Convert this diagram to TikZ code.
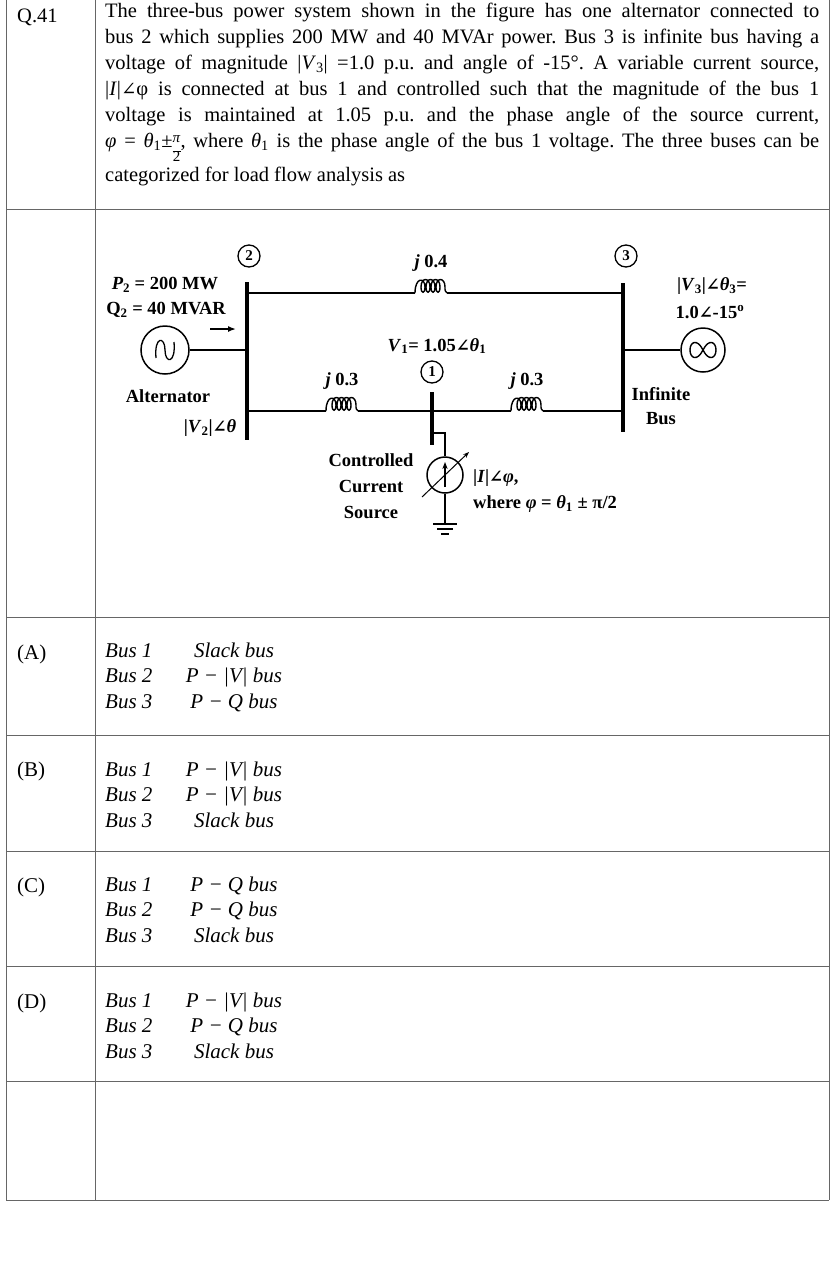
\documentclass[tikz,border=0pt]{standalone}
\usepackage{fontspec}
\setmainfont{Liberation Serif}
\newfontfamily\dv{DejaVu Serif}
\usetikzlibrary{arrows.meta,decorations.pathmorphing}
\newcommand{\ang}{{\dv\fontsize{0.9em}{1em}\selectfont ∠}}
\newcommand{\vi}[1]{\textit{#1}}
\newcommand{\pitwo}{\raisebox{-0.55ex}{\fontsize{15}{15}\selectfont\begin{tabular}{@{}c@{}}\textit{π}\\[-6pt]\rule{8pt}{0.6pt}\\[-5pt]2\end{tabular}}}
\begin{document}
\begin{tikzpicture}[x=1pt,y=-1pt,
  grid/.style={draw=black!60,line width=0.8pt},
  wire/.style={line width=1.5pt},
  busbar/.style={line width=4.5pt},
  lbl/.style={font=\fontsize{18.5}{20}\selectfont\bfseries,inner sep=0pt},
  num/.style={circle,draw,line width=1.3pt,minimum size=22pt,inner sep=0pt,font=\fontsize{15}{15}\selectfont\bfseries},
  opt/.style={font=\fontsize{21}{22}\selectfont,anchor=base west,inner sep=0pt},
  optc/.style={font=\fontsize{21}{22}\selectfont,anchor=base,inner sep=0pt}]
\useasboundingbox (0,0) rectangle (840,1262);
\frenchspacing
% table
\draw[grid] (6,0) -- (6,1200) (95,0) -- (95,1200) (829,0) -- (829,1200);
\foreach \y in {209,617,735,851,966,1081,1200} \draw[grid] (6,\y) -- (829,\y);
\node[anchor=base west,inner sep=0pt,font=\fontsize{20.5}{26}\selectfont] (q) at (17,22) {Q.41};
\node[anchor=north west,inner sep=0pt,text width=714pt,align=justify,font=\fontsize{20.5}{26}\selectfont] (para) at (105,3)
{\frenchspacing The three-bus power system shown in the figure has one alternator connected to\linebreak
bus 2 which supplies 200 MW and 40 MVAr power. Bus 3 is infinite bus having a\linebreak
voltage of magnitude |\vi{V}\textsubscript{3}| =1.0 p.u. and angle of -15°. A variable current source,\linebreak
|\vi{I}|\ang φ is connected at bus 1 and controlled such that the magnitude of the bus 1\linebreak
voltage is maintained at 1.05 p.u. and the phase angle of the source current,\linebreak
\vi{φ} = \vi{θ}\textsubscript{1}±\pitwo, where \vi{θ}\textsubscript{1} is the phase angle of the bus 1 voltage. The three buses can be\linebreak
categorized for load flow analysis as};
% diagram buses
\draw[busbar] (247,282) -- (247,440);
\draw[busbar] (623,283) -- (623,432);
\draw[busbar] (432,392) -- (432,445);
\coordinate (b2t) at (247,293); \coordinate (b3t) at (623,293);
\coordinate (b2b) at (247,411); \coordinate (b3b) at (623,411);
\coordinate (b1) at (432,411);
\newcommand{\coilat}[2]{%
 \draw[line width=1.4pt] (#1-16,#2) .. controls (#1-16,#2-16) and (#1-6,#2-16) .. (#1-6,#2-6)
  .. controls (#1-6,#2+1) and (#1-10,#2+1) .. (#1-10,#2-6)
  .. controls (#1-10,#2-16) and (#1-1,#2-16) .. (#1-1,#2-6)
  .. controls (#1-1,#2+1) and (#1-5,#2+1) .. (#1-5,#2-6)
  .. controls (#1-5,#2-16) and (#1+4,#2-16) .. (#1+4,#2-6)
  .. controls (#1+4,#2+1) and (#1,#2+1) .. (#1,#2-6)
  .. controls (#1,#2-16) and (#1+9,#2-16) .. (#1+9,#2-6)
  .. controls (#1+9,#2+1) and (#1+5,#2+1) .. (#1+5,#2-6)
  .. controls (#1+5,#2-16) and (#1+14,#2-16) .. (#1+14,#2-6)
  .. controls (#1+14,#2-2) .. (#1+16,#2);}
\draw[wire] (b2t) -- (415,293); \coilat{431}{293} \draw[wire] (447,293) -- (b3t);
\draw[wire] (b2b) -- (326,411); \coilat{342}{411} \draw[wire] (358,411) -- (b1);
\draw[wire] (b1) -- (511,411); \coilat{527}{411} \draw[wire] (543,411) -- (b3b);
\node[lbl] (j4) at (431,263) {\itshape j\upshape\ 0.4};
\node[lbl] (j3a) at (342,381) {\itshape j\upshape\ 0.3};
\node[lbl] (j3b) at (527,381) {\itshape j\upshape\ 0.3};
\node[num] (n2) at (249,256) {2};
\node[num] (n3) at (626,256) {3};
\node[num] (n1) at (432,372) {1};
% alternator
\node[circle,draw,line width=1.5pt,minimum size=48pt,inner sep=0pt] (gen) at (165,350) {};
\draw[line width=1.3pt] (156,358) .. controls (154,336) and (165,336) .. (165,350) .. controls (165,364) and (176,364) .. (174,342);
\draw[wire] (gen.east) -- (247,350);
\draw[-{Latex[length=8pt]},line width=1.5pt] (210,329) -- (236,329);
% infinite source
\node[circle,draw,line width=1.5pt,minimum size=44pt,inner sep=0pt] (inf) at (703,350) {};
\draw[line width=1.4pt] (703,350) .. controls (697,338) and (690,342) .. (690,350) .. controls (690,358) and (697,362) .. (703,350) .. controls (709,338) and (716,342) .. (716,350) .. controls (716,358) and (709,362) .. (703,350);
\draw[wire] (623,350) -- (inf.west);
% current source
\node[circle,draw,line width=1.5pt,minimum size=36pt,inner sep=0pt] (cs) at (445,475) {};
\draw[wire] (432,433) -- (445,433) -- (cs.north);
\draw[-{Stealth[length=7pt]},line width=1.6pt] (445,487) -- (445,462);
\draw[-{Stealth[length=6pt]},line width=1pt] (422,497) -- (469,452);
\coordinate (gnd) at (445,524);
\draw[wire] (cs.south) -- (gnd);
\draw[line width=1.4pt] (433,524) -- (457,524) (437,529) -- (453,529) (441,534) -- (449,534);
% labels
\node[lbl] (p2) at (165,285) {\itshape P\textsubscript{\upshape 2}\upshape\ = 200 MW};
\node[lbl] (q2) at (166,310) {Q\textsubscript{2} = 40 MVAR};
\node[lbl] (alt) at (168,396) {Alternator};
\node[lbl] (v2) at (210,428) {|\vi{V}\textsubscript{2}|\ang\vi{θ}};
\node[lbl] (v1) at (437,346) {\vi{V}\textsubscript{1}= 1.05\ang\vi{θ}\textsubscript{1}};
\node[lbl] (v3) at (712,286) {|\vi{V}\textsubscript{3}|\ang\vi{θ}\textsubscript{3}=};
\node[lbl] (v3b) at (710,312) {1.0\ang-15\textsuperscript{o}};
\node[lbl] (ib1) at (661,394) {Infinite};
\node[lbl] (ib2) at (661,419) {Bus};
\node[lbl,align=center,font=\fontsize{18.5}{26}\selectfont\bfseries] (ccs) at (371,486) {Controlled\\Current\\Source};
\node[lbl,anchor=west] (iphi) at (473,478) {|\vi{I}|\ang\vi{φ},};
\node[lbl,anchor=west] (where) at (473,504) {where \vi{φ} = \vi{θ}\textsubscript{1} ± π/2};
% options
\foreach \L/\y in {A/659,B/776,C/892,D/1008} \node[opt] at (17,\y) {(\L)};
\newcommand{\optrow}[4]{%
 \node[opt] at (105,#1) {\itshape Bus 1}; \node[optc] at (234,#1) {#2};
 \node[opt] at (105,#1+25.5) {\itshape Bus 2}; \node[optc] at (234,#1+25.5) {#3};
 \node[opt] at (105,#1+51) {\itshape Bus 3}; \node[optc] at (234,#1+51) {#4};}
\newcommand{\SL}{\itshape Slack bus}
\newcommand{\PV}{\itshape P − |V| bus}
\newcommand{\PQ}{\itshape P − Q bus}
\optrow{657}{\SL}{\PV}{\PQ}
\optrow{776}{\PV}{\PV}{\SL}
\optrow{891}{\PQ}{\PQ}{\SL}
\optrow{1007}{\PV}{\PQ}{\SL}
\end{tikzpicture}
\end{document}
